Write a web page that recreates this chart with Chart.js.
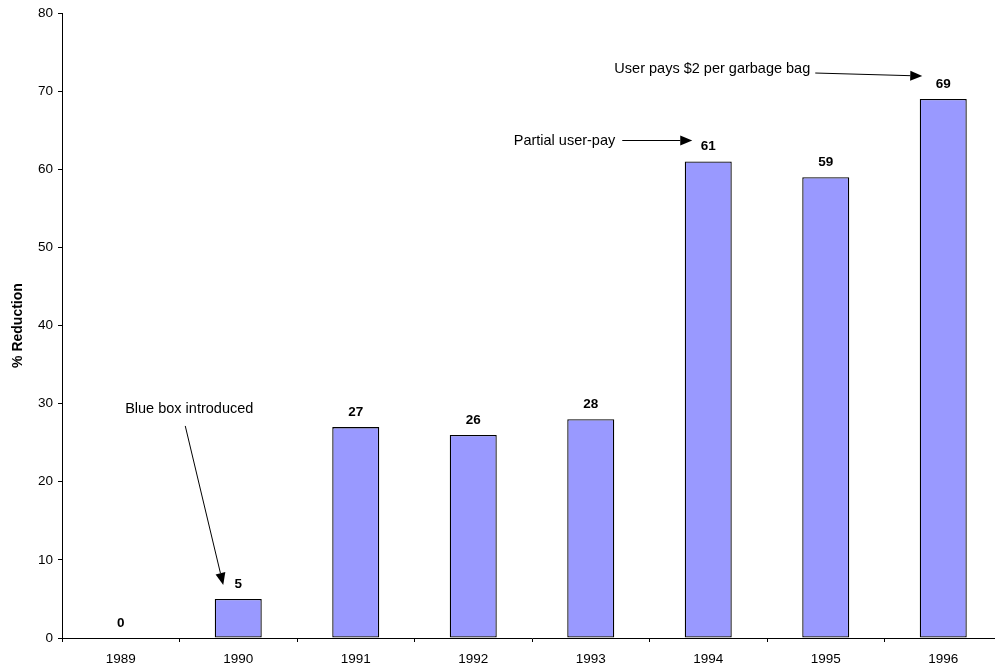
<!DOCTYPE html>
<html>
<head>
<meta charset="utf-8">
<script src="https://cdn.jsdelivr.net/npm/chart.js@4"></script>
<style>
  html, body { margin: 0; padding: 0; background: #fff; overflow: hidden; }
  #wrap { width: 1002px; height: 668px; }
</style>
</head>
<body>
<div id="wrap"><canvas id="chart"></canvas></div>
<script>
// data
const years = ['1989', '1990', '1991', '1992', '1993', '1994', '1995', '1996'];
const reduction = [0, 5, 27, 26, 28, 61, 59, 69];
const yTicks = [0, 10, 20, 30, 40, 50, 60, 70, 80];

// notes pointing at bars (index of the bar + text)
const noteIndex = [1, 5, 7];
const noteText = ['Blue box introduced', 'Partial user-pay', 'User pays $2 per garbage bag'];

// where each note sits relative to the top of its bar (pixels)
const noteLayout = [
    { tx: -49, ty: -190, align: 'center', from: [-53, -173], to: [-15, -14] },
    { tx: -93, ty: -21, align: 'right', from: [-86, -21], to: [-16, -21] },
    { tx: -133, ty: -30, align: 'right', from: [-128, -26], to: [-21, -23] },
];

function arrow(ctx, x1, y1, x2, y2) {
    const ang = Math.atan2(y2 - y1, x2 - x1);
    const len = 12, w = 5;
    ctx.beginPath();
    ctx.moveTo(x1, y1);
    ctx.lineTo(x2 - Math.cos(ang) * len, y2 - Math.sin(ang) * len);
    ctx.stroke();
    ctx.beginPath();
    ctx.moveTo(x2, y2);
    ctx.lineTo(x2 - Math.cos(ang) * len - Math.sin(ang) * w, y2 - Math.sin(ang) * len + Math.cos(ang) * w);
    ctx.lineTo(x2 - Math.cos(ang) * len + Math.sin(ang) * w, y2 - Math.sin(ang) * len - Math.cos(ang) * w);
    ctx.closePath();
    ctx.fill();
}

const labelsPlugin = {
    id: 'labelsPlugin',
    afterDatasetsDraw(chart) {
        const ctx = chart.ctx;
        const x = chart.scales.x, y = chart.scales.y;
        ctx.save();
        ctx.fillStyle = '#000';
        ctx.strokeStyle = '#000';
        ctx.font = 'bold 13.5px "Liberation Sans", Arial, sans-serif';
        ctx.textAlign = 'center';
        ctx.textBaseline = 'middle';
        reduction.forEach((v, i) => {
            ctx.fillText(String(v), x.getPixelForValue(i), y.getPixelForValue(v) - 15);
        });

        ctx.font = '14.5px "Liberation Sans", Arial, sans-serif';
        ctx.lineWidth = 1;
        noteIndex.forEach((idx, k) => {
            const cx = x.getPixelForValue(idx);
            const top = y.getPixelForValue(reduction[idx]);
            const l = noteLayout[k];
            ctx.textAlign = l.align;
            ctx.fillText(noteText[k], cx + l.tx, top + l.ty);
            arrow(ctx, cx + l.from[0], top + l.from[1], cx + l.to[0], top + l.to[1]);
        });
        ctx.restore();
    }
};

Chart.defaults.font.family = '"Liberation Sans", Arial, sans-serif';
Chart.defaults.font.size = 13.5;
Chart.defaults.color = '#000';

new Chart(document.getElementById('chart'), {
    type: 'bar',
    data: {
        labels: years,
        datasets: [{
            label: '% Reduction',
            data: reduction,
            backgroundColor: '#9999FF',
            borderColor: '#000',
            borderWidth: 1.3,
            borderSkipped: false,
            categoryPercentage: 1,
            barPercentage: 0.4,
        }],
    },
    options: {
        responsive: true,
        maintainAspectRatio: false,
        animation: false,
        layout: { padding: { top: 11, right: 0, left: 0, bottom: 0 } },
        plugins: {
            legend: { display: false },
            tooltip: { enabled: false },
        },
        scales: {
            x: {
                grid: { drawOnChartArea: false, drawTicks: true, tickLength: 4, color: '#000', offset: true },
                border: { display: true, color: '#000', width: 1 },
                ticks: { padding: 9 },
                afterFit: (s) => { s.height = 30; },
            },
            y: {
                min: 0,
                max: 80,
                afterBuildTicks: (s) => { s.ticks = yTicks.map(v => ({ value: v })); },
                grid: { drawOnChartArea: false, drawTicks: true, tickLength: 4, color: '#000' },
                border: { display: true, color: '#000', width: 1 },
                ticks: { padding: 5 },
                title: { display: true, text: '% Reduction', font: { size: 14, weight: 'bold' }, padding: { top: 10, bottom: 0 } },
                afterFit: (s) => { s.width = 62; },
            },
        },
    },
    plugins: [labelsPlugin],
});
</script>
</body>
</html>
